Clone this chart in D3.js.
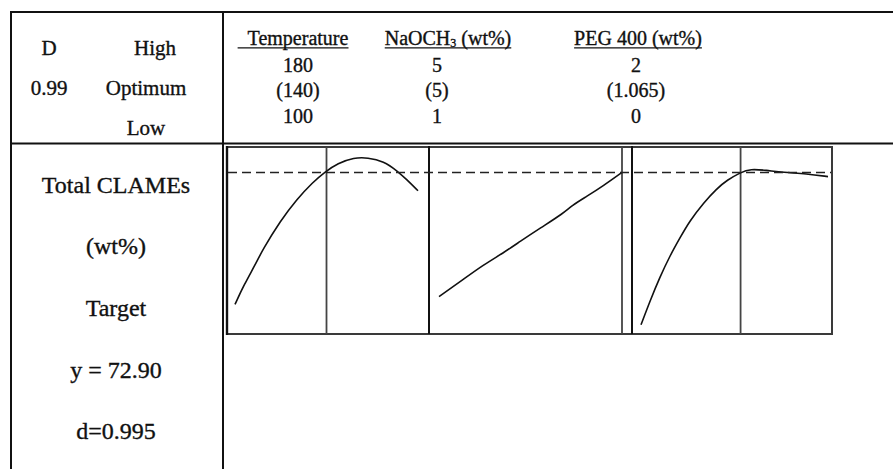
<!DOCTYPE html>
<html>
<head>
<meta charset="utf-8">
<script src="https://cdn.jsdelivr.net/npm/d3@7"></script>
<style>
  html, body { margin: 0; padding: 0; background: #fff; }
  svg { display: block; }
  text { font-family: "Liberation Serif", "Times New Roman", serif; fill: #111; stroke: #111; stroke-width: 0.35px; }
</style>
</head>
<body>
<svg id="chart" width="893" height="469"></svg>
<script>
// ---------------- DATA ----------------
const factorNames = ["Temperature", "NaOCH", "PEG 400 (wt%)"];
const highLabels = ["180", "5", "2"];
const optLabels = ["(140)", "(5)", "(1.065)"];
const lowLabels = ["100", "1", "0"];
const factorLow = [100, 1, 0];
const factorHigh = [180, 5, 2];
const factorOpt = [140, 5, 1.065];

const summaryLabels = ["D", "0.99"];
const levelLabels = ["High", "Optimum", "Low"];
const responseLabels = ["Total CLAMEs", "(wt%)", "Target", "y = 72.90", "d=0.995"];
const targetY = 72.90;

// response curves
const tempX = [100, 104, 109, 112, 120, 127, 134, 139, 145, 152, 158, 165, 171, 175, 180];
const tempY = [54.2, 57.0, 59.9, 61.9, 66.1, 69.1, 71.5, 72.9, 74.2, 75.0, 75.0, 74.5, 73.1, 71.9, 70.3];
const naX = [1, 1.46, 1.97, 2.41, 2.77, 3.21, 3.72, 3.9, 4.23, 4.59, 5];
const naY = [55.3, 57.4, 59.8, 61.5, 63.1, 65.0, 67.1, 68.2, 69.5, 71.0, 72.9];
const pegX = [0, 0.1, 0.2, 0.31, 0.42, 0.52, 0.67, 0.81, 0.92, 1.065, 1.17, 1.34, 1.52, 1.77, 2.0];
const pegY = [51.3, 54.8, 58.0, 61.1, 63.7, 66.0, 68.6, 70.6, 71.8, 72.9, 73.4, 73.2, 72.9, 72.7, 72.3];

// ---------------- LAYOUT ----------------
const svg = d3.select("#chart");
const W = 893, H = 469;
const outerL = 11, outerT = 12, colX = 223, headB = 143.5;
const panelTop = 147, panelBot = 334;
const panels = [
  {x0: 227, x1: 429, r0: 235, r1: 418, xs: tempX, ys: tempY},
  {x0: 429, x1: 632, r0: 439, r1: 622, xs: naX, ys: naY},
  {x0: 632, x1: 832, r0: 641, r1: 828, xs: pegX, ys: pegY}
];
const y = d3.scaleLinear().domain([50, 76.5]).range([panelBot, panelTop]);

// frame lines
const frame = svg.append("g").attr("stroke", "#111").attr("stroke-width", 2).attr("fill", "none");
frame.append("line").attr("x1", outerL).attr("x2", W).attr("y1", outerT).attr("y2", outerT);
frame.append("line").attr("x1", outerL).attr("x2", W).attr("y1", headB).attr("y2", headB);
frame.append("line").attr("x1", outerL).attr("x2", outerL).attr("y1", outerT - 1).attr("y2", H);
frame.append("line").attr("x1", colX).attr("x2", colX).attr("y1", outerT - 1).attr("y2", H);

// panels
panels.forEach((p, i) => {
  const x = d3.scaleLinear().domain([factorLow[i], factorHigh[i]]).range([p.r0, p.r1]);
  const g = svg.append("g");
  g.append("rect").attr("x", p.x0).attr("y", panelTop).attr("width", p.x1 - p.x0).attr("height", panelBot - panelTop)
    .attr("fill", "none").attr("stroke", "#3a3a3a").attr("stroke-width", 2);
  // optimum vertical line
  g.append("line").attr("x1", x(factorOpt[i])).attr("x2", x(factorOpt[i]))
    .attr("y1", panelTop).attr("y2", panelBot).attr("stroke", "#444").attr("stroke-width", 1.8);
  // curve
  const pts = p.xs.map((v, j) => [x(v), y(p.ys[j])]);
  g.append("path").attr("d", d3.line().curve(d3.curveBasis)(pts))
    .attr("fill", "none").attr("stroke", "#111").attr("stroke-width", 1.6);
});
// panel separators darker
[429, 632].forEach(xx => {
  svg.append("line").attr("x1", xx).attr("x2", xx).attr("y1", panelTop - 1).attr("y2", panelBot)
    .attr("stroke", "#111").attr("stroke-width", 2);
});
svg.append("line").attr("x1", 227).attr("x2", 227).attr("y1", panelTop - 1).attr("y2", panelBot + 1)
  .attr("stroke", "#111").attr("stroke-width", 2.4);

// target dashed line
svg.append("line").attr("x1", 228).attr("x2", 831).attr("y1", y(targetY)).attr("y2", y(targetY))
  .attr("stroke", "#222").attr("stroke-width", 1.5).attr("stroke-dasharray", "9,5");

// ---------------- TEXT ----------------
// left header
const lh = svg.append("g").attr("font-size", 21).attr("text-anchor", "middle");
lh.append("text").attr("x", 49).attr("y", 55).text(summaryLabels[0]);
lh.append("text").attr("x", 49).attr("y", 95).text(summaryLabels[1]);
[55, 95, 135].forEach((yy, i) => {
  lh.append("text").attr("x", i === 0 ? 155 : 146).attr("y", yy).text(levelLabels[i]);
});

// factor headers
const hdrCX = [298, 448, 638];
const numCX = [298, 437, 636];
const hg = svg.append("g").attr("font-size", 20).attr("text-anchor", "middle");
factorNames.forEach((n, i) => {
  const t = hg.append("text").attr("x", hdrCX[i]).attr("y", 45);
  if (i === 1) {
    t.append("tspan").text(n);
    t.append("tspan").attr("font-size", 12).attr("dy", 2).text("3");
    t.append("tspan").attr("dy", -2).text(" (wt%)");
  } else {
    t.text(n);
  }
  const bb = t.node().getBBox();
  const extra = i === 0 ? 10 : 0;
  hg.append("line").attr("x1", bb.x - extra).attr("x2", bb.x + bb.width).attr("y1", 47.8).attr("y2", 47.8)
    .attr("stroke", "#111").attr("stroke-width", 1.2);
  hg.append("text").attr("x", numCX[i]).attr("y", 71.5).text(highLabels[i]);
  hg.append("text").attr("x", numCX[i]).attr("y", 96.5).text(optLabels[i]);
  hg.append("text").attr("x", numCX[i]).attr("y", 122.5).text(lowLabels[i]);
});

// response labels
const rg = svg.append("g").attr("font-size", 24).attr("text-anchor", "middle");
[193, 254, 316, 378, 439].forEach((yy, i) => {
  rg.append("text").attr("x", 116).attr("y", yy).text(responseLabels[i]);
});
</script>
</body>
</html>
